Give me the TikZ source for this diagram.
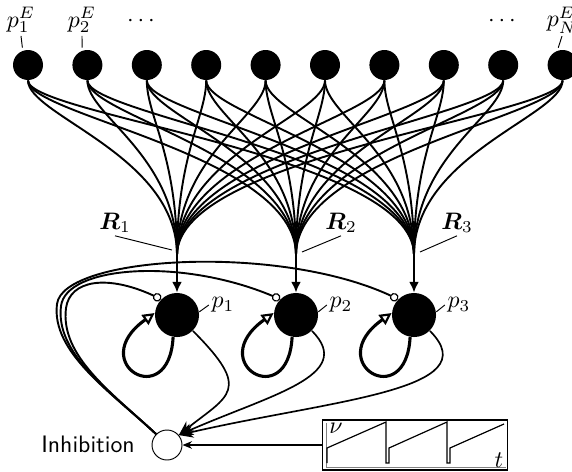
\documentclass[tikz,border=0pt]{standalone}
\usepackage{bm}
\usetikzlibrary{arrows.meta,calc}
\begin{document}
\begin{tikzpicture}[x=0.42pt,y=-0.42pt,
  exc/.style={circle,fill=black,inner sep=0pt,minimum size=12.6pt},
  pop/.style={circle,fill=black,inner sep=0pt,minimum size=18.5pt},
  inh/.style={circle,draw,line width=0.4pt,fill=white,inner sep=0pt,minimum size=12.6pt},
  fan/.style={line width=0.8pt},
  lab/.style={inner sep=1pt},
  tick/.style={line width=0.4pt},
  inhc/.style={line width=0.8pt,-{Circle[length=3.6pt,fill=white,line width=0.5pt]}},
  selfc/.style={line width=1.3pt,-{Triangle[open,length=5pt,width=5pt,line width=0.9pt]}},
  exout/.style={line width=0.7pt,-{Stealth[length=6pt,width=5pt]}}
]
\useasboundingbox (0,0) rectangle (572,471);

% coordinates of fan convergence
\coordinate (c1) at (177,255);
\coordinate (c2) at (296,255);
\coordinate (c3) at (414,255);

% top excitatory nodes
\foreach \i in {1,...,10} \node[exc] (e\i) at ({28+59.4*(\i-1)},65) {};

% fan connections
\foreach \i in {1,...,10} {
  \foreach \j in {1,2,3} {
    \draw[fan] (e\i.south) .. controls +(0,35) and +(0,-100) .. (c\j);
  }
}

% middle populations
\node[pop] (p1) at (177,315) {};
\node[pop] (p2) at (296,315) {};
\node[pop] (p3) at (414,315) {};

\foreach \j in {1,2,3}
  \draw[fan,-{Latex[length=4.5pt,width=4.2pt]}] (c\j) -- (p\j.north);

% labels of top nodes
\node[lab] (l1) at (21,20) {$p_1^E$};
\node[lab] (l2) at (82,20) {$p_2^E$};
\node[lab] (d1) at (141,21) {$\cdots$};
\node[lab] (d2) at (502,21) {$\cdots$};
\node[lab] (lN) at (562,20) {$p_N^E$};
\draw[tick,shorten >=1.2pt] (l1.south) -- (e1.110);
\draw[tick,shorten >=1.2pt] (l2.south) -- (e2.110);
\draw[tick,shorten >=1.2pt] (lN.south) -- (e10.110);

% R labels
\node[lab] (r1) at (115,223) {$\bm{R}_1$};
\node[lab] (r2) at (341,223) {$\bm{R}_2$};
\node[lab] (r3) at (457,223) {$\bm{R}_3$};
\coordinate (r1e) at (172,250);
\coordinate (r2e) at (302,252);
\coordinate (r3e) at (420,252);
\draw[tick] (r1.south) -- (r1e);
\draw[tick] (r2.south) -- (r2e);
\draw[tick] (r3.south) -- (r3e);

% p labels
\node[lab] (q1) at (223,305) {$p_1$};
\node[lab] (q2) at (341,305) {$p_2$};
\node[lab] (q3) at (459,305) {$p_3$};
\draw[tick] (p1.8) -- (q1.west);
\draw[tick] (p2.8) -- (q2.west);
\draw[tick] (p3.8) -- (q3.west);

% inhibition node
\node[inh] (I) at (167,445) {};
\node[font=\sffamily,inner sep=0pt] (it) at (88,444) {Inhibition};

% inhibitory feedback
\coordinate (w1) at (66,308);
\coordinate (w2) at (61,306);
\coordinate (w3) at (57,304);
\draw[inhc] (I.135) .. controls +(-45,-42) and +(-6,48) .. (w3) .. controls +(6,-48) and +(-120,-56) .. (p3.135);
\draw[inhc] (I.135) .. controls +(-45,-42) and +(-6,48) .. (w2) .. controls +(5,-40) and +(-100,-42) .. (p2.135);
\draw[inhc] (I.135) .. controls +(-45,-42) and +(-6,48) .. (w1) .. controls +(4,-28) and +(-54,-25) .. (p1.135);

% self loops
\foreach \j in {1,2,3}
  \draw[selfc] (p\j.-100) .. controls +(-4,76) and +(-70,50) .. (p\j.175);

% excitatory outputs to inhibition
\draw[exout] (p1.-45) .. controls +(60,60) and +(50,-40) .. (I.40);
\draw[exout] (p2.-45) .. controls +(45,45) and +(90,-40) .. (I.40);
\draw[exout] (p3.-45) .. controls +(60,60) and +(150,-35) .. (I.40);

% external drive box
\node[draw,line width=0.5pt,inner sep=0pt,minimum width=78pt,minimum height=21pt] (box) at (415,445) {};
\draw[line width=0.4pt,gray] (326,423) -- (326,467) -- (506,467);
\draw[line width=0.5pt] (327,463) -- (327,448) -- (386,422) -- (386,463) -- (389,463) -- (389,448) -- (447,422) -- (447,463) -- (450,463) -- (450,448) -- (504,424);
\node[lab] (nu) at (336,428) {$\nu$};
\node[lab] (tt) at (499,460) {$t$};
\draw[line width=0.5pt,-{Stealth[length=4pt,width=3.2pt]}] (box.west) -- (I.east);
\end{tikzpicture}
\end{document}
